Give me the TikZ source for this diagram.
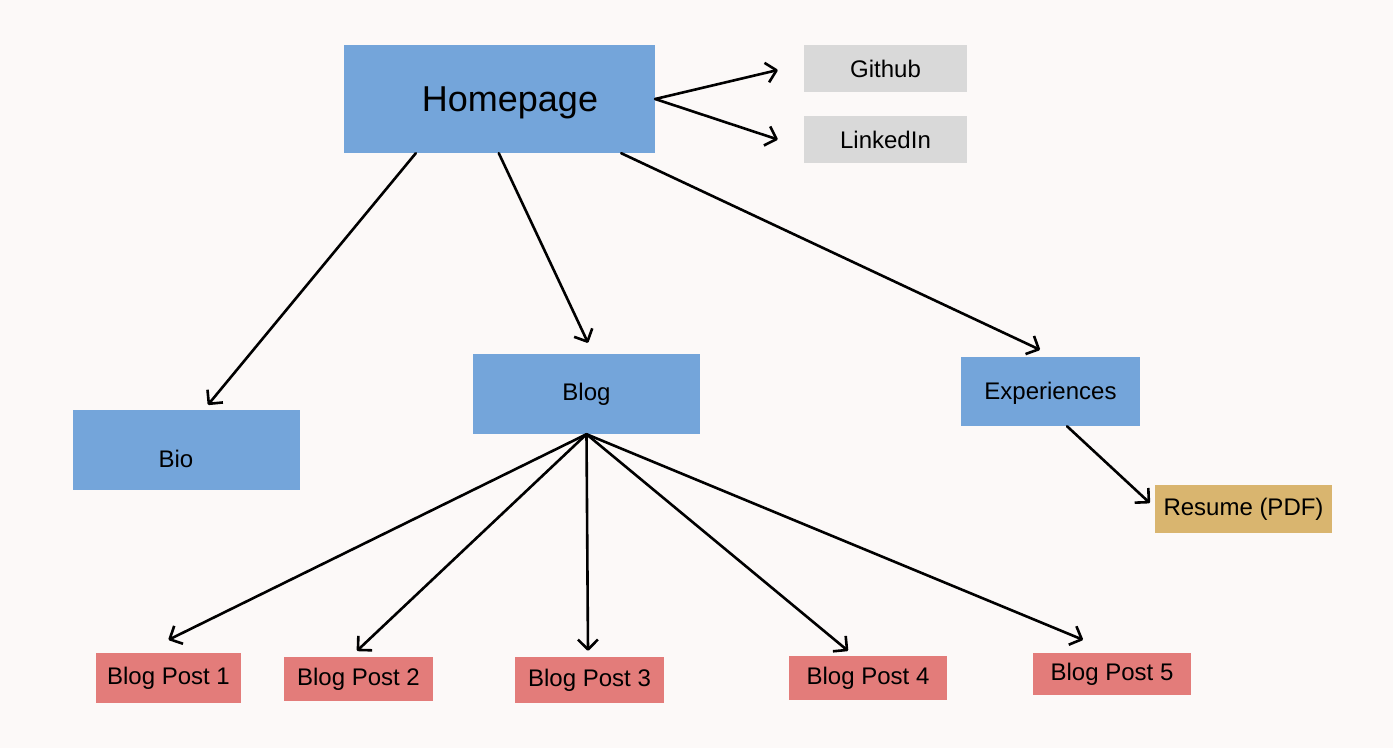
\documentclass[tikz,border=0pt]{standalone}
\usepackage{fontspec}
\setmainfont{Liberation Sans}
\usepackage{tikz}
\usetikzlibrary{arrows.meta}
\definecolor{PageBg}{RGB}{252,249,248}
\definecolor{Section}{RGB}{116,165,218}
\definecolor{Social}{RGB}{217,217,217}
\definecolor{Post}{RGB}{227,124,122}
\definecolor{Doc}{RGB}{217,181,111}
\newcommand{\BoxFont}{\fontsize{24}{28}\selectfont}

\begin{document}
\begin{tikzpicture}[x=1pt,y=-1pt,
  box/.style={inner sep=0pt,font=\BoxFont},
  section/.style={box,fill=Section},
  social/.style={box,fill=Social},
  post/.style={box,fill=Post,minimum height=46},
  doc/.style={box,fill=Doc},
  link/.style={line width=2.6pt,line cap=round,-{Straight Barb[length=10pt,width=20pt,line join=round]}}]
\fill[PageBg] (0,0) rectangle (1393,748);
\useasboundingbox (0,0) rectangle (1393,748);
% top level
\node[section,minimum width=311,minimum height=108,
  label={[xshift=10.5pt,yshift=-4pt,font=\fontsize{36}{40}\selectfont]center:Homepage}] (home) at (499.5,99) {};
\node[social,minimum width=163,minimum height=47] (github) at (885.5,68.5) {Github};
\node[social,minimum width=163,minimum height=47] (linkedin) at (885.5,139.5) {LinkedIn};
% sections
\node[section,minimum width=227,minimum height=80,
  label={[xshift=-10.5pt,yshift=-9pt,font=\BoxFont]center:Bio}] (bio) at (186.5,450) {};
\node[section,minimum width=227,minimum height=80] (blog) at (586.5,394) {Blog};
\node[section,minimum width=179,minimum height=69,
  label={[yshift=-2pt,font=\BoxFont]center:Experiences}] (exp) at (1050.5,391.5) {};
\node[doc,minimum width=177,minimum height=48] (resume) at (1243.5,509) {Resume (PDF)};
% posts
\node[post,minimum width=145,minimum height=50] (bp1) at (168.5,678) {Blog Post 1};
\node[post,minimum width=149,minimum height=44] (bp2) at (358.5,679) {Blog Post 2};
\node[post,minimum width=149] (bp3) at (589.5,680) {Blog Post 3};
\node[post,minimum width=158,minimum height=44] (bp4) at (868,678) {Blog Post 4};
\node[post,minimum width=158,minimum height=42] (bp5) at (1112,674) {Blog Post 5};

\draw[link] (home.east) -- ([xshift=-26pt,yshift=-1.5pt]github.west);
\draw[link] (home.east) -- ([xshift=-26pt]linkedin.west);
\draw[link] ([xshift=72pt]home.south west) -- ([xshift=21.5pt,yshift=5pt]bio.north);
\draw[link] ([xshift=155pt]home.south west) -- ([xshift=1.5pt,yshift=11pt]blog.north);
\draw[link] ([xshift=-34pt]home.south east) -- ([xshift=-10.5pt,yshift=7pt]exp.north);
\draw[link] ([xshift=16.5pt]exp.south) -- ([xshift=-5pt,yshift=6pt]resume.west);
% blog fan
\draw[link] (blog.south) -- ([yshift=13pt]bp1.north);
\draw[link] (blog.south) -- ([xshift=-1.5pt,yshift=6pt]bp2.north);
\draw[link] (blog.south) -- ([xshift=-1.5pt,yshift=6pt]bp3.north);
\draw[link] (blog.south) -- ([xshift=-20pt,yshift=5pt]bp4.north);
\draw[link] (blog.south) -- ([xshift=-29pt,yshift=13pt]bp5.north);
\end{tikzpicture}
\end{document}
